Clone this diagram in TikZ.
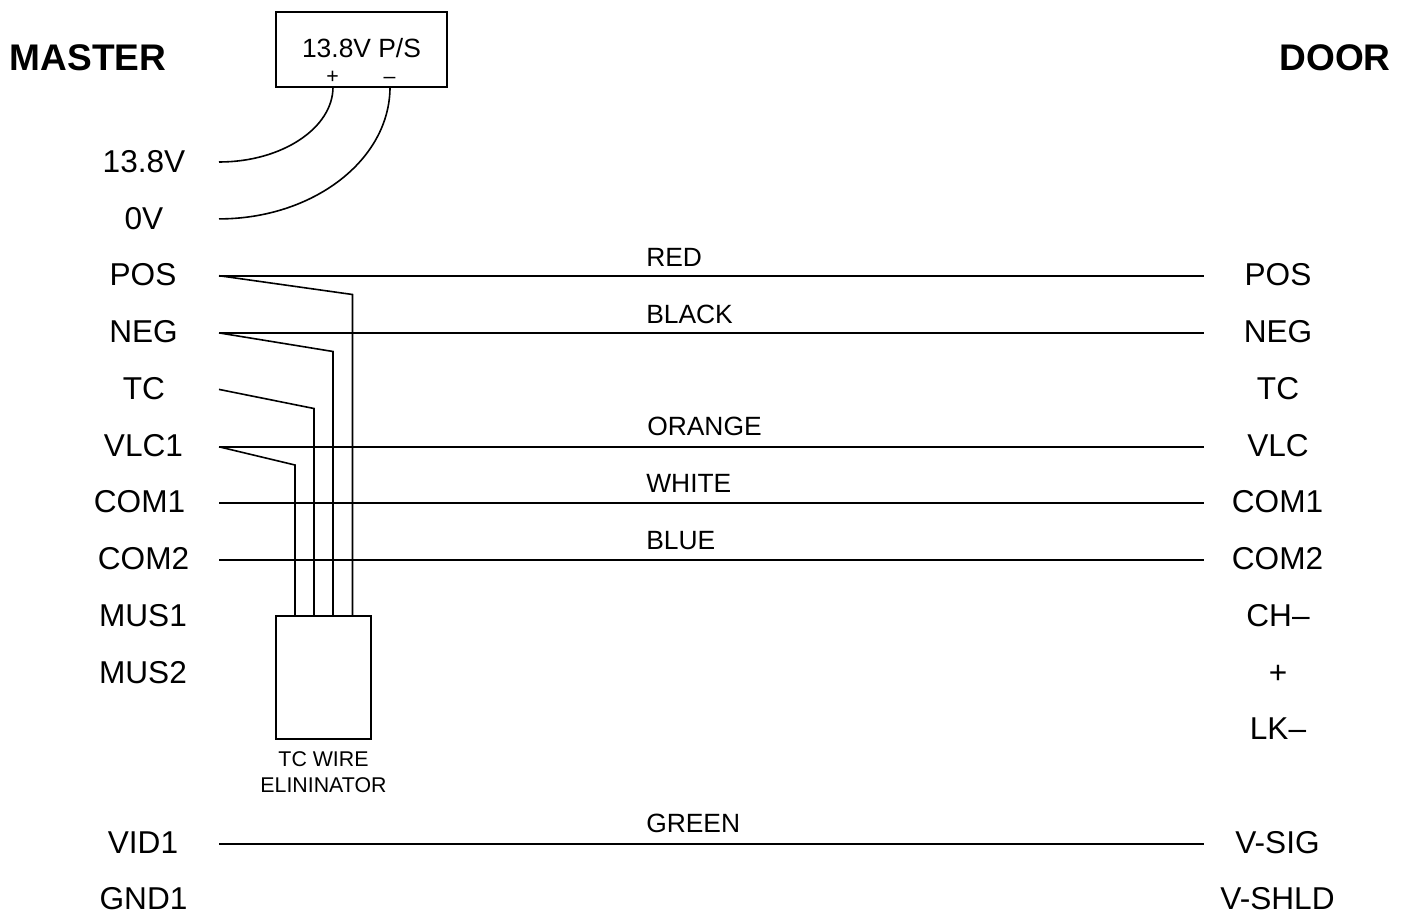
\documentclass[tikz,border=0pt]{standalone}
\usepackage{fontspec}
\setmainfont{Liberation Sans}
\tikzset{
  wire/.style={line width=1.2pt,black,line join=miter},
  boxed/.style={draw,line width=1.2pt,inner sep=0pt,minimum width=#1},
  lab/.style={anchor=base,inner sep=0pt,font=\fontsize{23.7}{27}\selectfont},
  head/.style={anchor=base,inner sep=0pt,font=\fontsize{27.8}{32}\selectfont\bfseries},
  col/.style={anchor=base west,inner sep=0pt,font=\fontsize{19.8}{23}\selectfont},
  small/.style={anchor=base,inner sep=0pt,font=\fontsize{16}{19}\selectfont},
}
\begin{document}
\begin{tikzpicture}[x=0.75pt,y=-0.75pt]
\useasboundingbox (0,0) rectangle (1405,914);
% boxes
\node[boxed=128.25pt,minimum height=56.25pt,anchor=north west] (ps) at (275.3,11.3) {};
\node[boxed=71.25pt,minimum height=92.25pt,anchor=north west] (tc) at (275.3,615.3) {};
% headings
\node[head,anchor=base west] (master) at (9.5,70) {MASTER};
\node[head,anchor=base east] (door) at (1391,70) {DOOR};
\node[anchor=base,inner sep=0pt,font=\fontsize{19.8}{23}\selectfont] (pstext) at (361.5,57.5) {13.8V P/S};
\node[small] (psplus) at (332.5,83) {+};
\node[small] (psminus) at (389.5,83) {–};
\node[small] (tc1) at (323.5,766) {TC WIRE};
\node[small] (tc2) at (323.5,792) {ELININATOR};
% left labels
\node[lab] (l138) at (144,172) {13.8V};
\node[lab] (l0v) at (144,229) {0V};
\node[lab] (lpos) at (143,285.8) {POS};
\node[lab] (lneg) at (143.5,342.3) {NEG};
\node[lab] (ltc) at (144,399) {TC};
\node[lab] (lvlc) at (143.5,456) {VLC1};
\node[lab] (lcom1) at (139.5,512.6) {COM1};
\node[lab] (lcom2) at (143.5,569.5) {COM2};
\node[lab] (lmus1) at (143,626.4) {MUS1};
\node[lab] (lmus2) at (143,683.2) {MUS2};
\node[lab] (lvid) at (143,853.7) {VID1};
\node[lab] (lgnd) at (143.5,909) {GND1};
% right labels
\node[lab] (rpos) at (1278,285.8) {POS};
\node[lab] (rneg) at (1278,342.3) {NEG};
\node[lab] (rtc) at (1278,399) {TC};
\node[lab] (rvlc) at (1278,456) {VLC};
\node[lab] (rcom1) at (1277.5,512.6) {COM1};
\node[lab] (rcom2) at (1277.5,569.5) {COM2};
\node[lab] (rch) at (1278,626.4) {CH–};
\node[lab] (rplus) at (1278,683.2) {+};
\node[lab] (rlk) at (1278,739.7) {LK–};
\node[lab] (rsig) at (1277.5,853.7) {V-SIG};
\node[lab] (rshld) at (1277.5,909) {V-SHLD};
% colour labels
\node[col] (cred) at (646,266.5) {RED};
\node[col] (cblack) at (646,323.4) {BLACK};
\node[col] (corange) at (647,435.6) {ORANGE};
\node[col] (cwhite) at (646,492.9) {WHITE};
\node[col] (cblue) at (646,549.8) {BLUE};
\node[col] (cgreen) at (646,832.4) {GREEN};
% wire ends
\foreach \n/\y in {a138/162,a0v/218.9,apos/275.7,aneg/332.9,atc/389.4,avlc/446.8,acom1/503.1,acom2/560,avid/843.8}
  \coordinate (\n) at (219,\y);
\foreach \n/\y in {bpos/275.7,bneg/332.9,bvlc/446.8,bcom1/503.1,bcom2/560,bsig/843.8}
  \coordinate (\n) at (1204,\y);
\coordinate (psp) at (333,87);
\coordinate (psm) at (390,87);
\foreach \n/\x in {t1/295,t2/314,t3/333,t4/352.5}
  \coordinate (\n) at (\x,616);
% straight wires
\draw[wire] (apos) -- (bpos);
\draw[wire] (aneg) -- (bneg);
\draw[wire] (avlc) -- (bvlc);
\draw[wire] (acom1) -- (bcom1);
\draw[wire] (acom2) -- (bcom2);
\draw[wire] (avid) -- (bsig);
% supply curves
\draw[wire] (a138) .. controls (282,162) and (333,128) .. (psp);
\draw[wire] (a0v) .. controls (313,218.9) and (390,160) .. (psm);
% wires to the eliminator
\draw[wire] (apos) -- (352.5,294.5) -- (t4);
\draw[wire] (aneg) -- (333,351.5) -- (t3);
\draw[wire] (atc) -- (314,408.5) -- (t2);
\draw[wire] (avlc) -- (295,465) -- (t1);
\end{tikzpicture}
\end{document}
